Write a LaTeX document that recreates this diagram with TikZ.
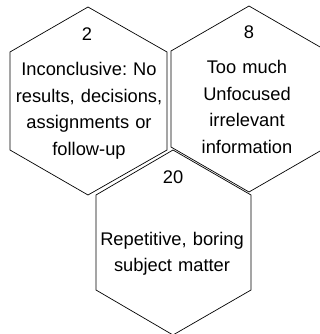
\documentclass[tikz,border=0pt]{standalone}
\usepackage{fontspec}
\setmainfont{Liberation Sans}
\frenchspacing
\begin{document}
\begin{tikzpicture}[x=1pt,y=-1pt,
  hexline/.style={draw=black,line width=0.7pt,line join=miter},
  numtxt/.style={font=\fontsize{18.3}{26.5}\selectfont,inner sep=0pt,anchor=base},
  bodytxt/.style={font=\fontsize{18.3}{26.5}\selectfont,inner sep=0pt,anchor=base,
                  text width=180pt,align=center}]
  \useasboundingbox (0,0) rectangle (320,334);
  \clip (0,0) rectangle (320,334);

  % left cell
  \draw[hexline] (88,7) -- (167,52) -- (167,150) -- (88,195) -- (10,150) -- (10,52) -- cycle;
  % right cell
  \draw[hexline] (249,6) -- (327,51) -- (327,147) -- (249,192) -- (171,147) -- (171,51) -- cycle;
  % lower cell
  \draw[hexline] (173,150) -- (251,195) -- (251,290) -- (173,335) -- (96,290) -- (96,195) -- cycle;

  \node[numtxt] (n2) at (87,41) {2};
  \node[bodytxt] (t2) at (89,76) {Inconclusive: No\\results, decisions,\\assignments or\\follow-up};

  \node[numtxt] (n8) at (249,39) {8};
  \node[bodytxt] (t8) at (247,74) {Too much\\Unfocused\\irrelevant\\information};

  \node[numtxt] (n20) at (173,183) {20};
  \node[bodytxt] (t20) at (172,245) {Repetitive, boring\\subject matter};
\end{tikzpicture}
\end{document}
